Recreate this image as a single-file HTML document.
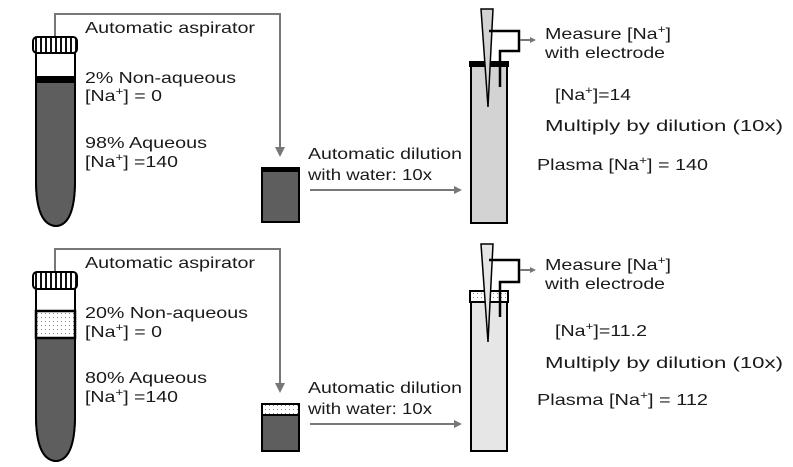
<!DOCTYPE html>
<html><head><meta charset="utf-8"><style>
html,body{margin:0;padding:0;background:#fff}
svg{display:block}
text{font-family:"Liberation Sans",sans-serif;font-size:16px;fill:#1a1a1a}
.s{font-size:11px}
</style></head><body>
<svg width="793" height="467" viewBox="0 0 793 467" xmlns="http://www.w3.org/2000/svg">
<defs>
<pattern id="dots" width="4" height="4" patternUnits="userSpaceOnUse"><rect width="4" height="4" fill="#fff"/><rect x="1" y="1" width="1" height="1" fill="#888"/></pattern>
<pattern id="stripe" width="5" height="5" patternUnits="userSpaceOnUse"><rect width="5" height="5" fill="#fff"/><rect x="0" y="0" width="2" height="5" fill="#111"/></pattern>
</defs>

<!-- ===== TOP PANEL ===== -->
<polyline points="55,36 55,14 280,14 280,148" fill="none" stroke="#777" stroke-width="2"/>
<polygon points="275,147 285,147 280,157" fill="#777"/>
<path d="M36,53 L36,180 Q36,225 56,226 Q75,225 75,180 L75,53 Z" fill="#fff" stroke="#000" stroke-width="2"/>
<path d="M36,82 L36,180 Q36,225 56,226 Q75,225 75,180 L75,82 Z" fill="#5e5e5e" stroke="#000" stroke-width="2"/>
<rect x="35" y="76" width="41" height="6" fill="#000"/>
<rect x="33" y="37" width="44" height="16" rx="4" fill="url(#stripe)" stroke="#000" stroke-width="2"/>
<text x="85" y="33" textLength="170" lengthAdjust="spacingAndGlyphs">Automatic aspirator</text>
<text x="85" y="83" textLength="151" lengthAdjust="spacingAndGlyphs">2% Non-aqueous</text>
<text x="85" y="101" textLength="77" lengthAdjust="spacingAndGlyphs">[Na<tspan class="s" dy="-6">+</tspan><tspan dy="6">] = 0</tspan></text>
<text x="85" y="148" textLength="122" lengthAdjust="spacingAndGlyphs">98% Aqueous</text>
<text x="85" y="167" textLength="93" lengthAdjust="spacingAndGlyphs">[Na<tspan class="s" dy="-6">+</tspan><tspan dy="6">] =140</tspan></text>
<rect x="262" y="168" width="37" height="54" fill="#5e5e5e" stroke="#000" stroke-width="2"/>
<rect x="261" y="167" width="39" height="5" fill="#000"/>
<text x="308" y="159" textLength="154" lengthAdjust="spacingAndGlyphs">Automatic dilution</text>
<text x="308" y="180" textLength="124" lengthAdjust="spacingAndGlyphs">with water: 10x</text>
<line x1="310" y1="190" x2="455" y2="190" stroke="#777" stroke-width="2"/>
<polygon points="454,186 462,190 454,194" fill="#777"/>
<rect x="471" y="64" width="36" height="159" fill="#d3d3d3" stroke="#000" stroke-width="2"/>
<rect x="469" y="61" width="40" height="6" fill="#000"/>
<polygon points="481,9 493,9 488,107" fill="#d3d3d3" stroke="#000" stroke-width="1.5"/>
<polyline points="489,31 519,31 519,51 500,51 500,87" fill="none" stroke="#000" stroke-width="2.5"/>
<line x1="520" y1="40" x2="531" y2="40" stroke="#777" stroke-width="2"/>
<polygon points="530,37 536,40 530,43" fill="#777"/>
<text x="545" y="39" textLength="126" lengthAdjust="spacingAndGlyphs">Measure [Na<tspan class="s" dy="-6">+</tspan><tspan dy="6">]</tspan></text>
<text x="545" y="58" textLength="120" lengthAdjust="spacingAndGlyphs">with electrode</text>
<text x="555" y="100" textLength="76" lengthAdjust="spacingAndGlyphs">[Na<tspan class="s" dy="-6">+</tspan><tspan dy="6">]=14</tspan></text>
<text x="545" y="131" textLength="238" lengthAdjust="spacingAndGlyphs">Multiply by dilution (10x)</text>
<text x="537" y="170" textLength="171" lengthAdjust="spacingAndGlyphs">Plasma [Na<tspan class="s" dy="-6">+</tspan><tspan dy="6">] = 140</tspan></text>

<!-- ===== BOTTOM PANEL ===== -->
<polyline points="55,272 55,249 280,249 280,384" fill="none" stroke="#777" stroke-width="2"/>
<polygon points="275,383 285,383 280,393" fill="#777"/>
<path d="M36,289 L36,415 Q36,460 56,461 Q75,460 75,415 L75,289 Z" fill="#fff" stroke="#000" stroke-width="2"/>
<path d="M36,338 L36,415 Q36,460 56,461 Q75,460 75,415 L75,338 Z" fill="#5e5e5e" stroke="#000" stroke-width="2"/>
<rect x="36" y="311" width="39" height="27" fill="url(#dots)" stroke="#000" stroke-width="2.5"/>
<rect x="33" y="272" width="44" height="17" rx="4" fill="url(#stripe)" stroke="#000" stroke-width="2"/>
<text x="85" y="268" textLength="170" lengthAdjust="spacingAndGlyphs">Automatic aspirator</text>
<text x="85" y="318" textLength="163" lengthAdjust="spacingAndGlyphs">20% Non-aqueous</text>
<text x="85" y="337" textLength="77" lengthAdjust="spacingAndGlyphs">[Na<tspan class="s" dy="-6">+</tspan><tspan dy="6">] = 0</tspan></text>
<text x="85" y="383" textLength="122" lengthAdjust="spacingAndGlyphs">80% Aqueous</text>
<text x="85" y="402" textLength="93" lengthAdjust="spacingAndGlyphs">[Na<tspan class="s" dy="-6">+</tspan><tspan dy="6">] =140</tspan></text>
<rect x="262" y="404" width="37" height="47" fill="#5e5e5e" stroke="#000" stroke-width="2"/>
<rect x="262" y="404" width="37" height="11" fill="url(#dots)" stroke="#000" stroke-width="2"/>
<text x="308" y="393" textLength="154" lengthAdjust="spacingAndGlyphs">Automatic dilution</text>
<text x="308" y="414" textLength="124" lengthAdjust="spacingAndGlyphs">with water: 10x</text>
<line x1="310" y1="424" x2="455" y2="424" stroke="#777" stroke-width="2"/>
<polygon points="454,420 462,424 454,428" fill="#777"/>
<rect x="471" y="302" width="36" height="149" fill="#e6e6e6" stroke="#000" stroke-width="2"/>
<rect x="470" y="291" width="38" height="11" fill="url(#dots)" stroke="#000" stroke-width="2"/>
<polygon points="481,244 493,244 488,342" fill="#e6e6e6" stroke="#000" stroke-width="1.5"/>
<polyline points="489,260 519,260 519,282 500,282 500,317" fill="none" stroke="#000" stroke-width="2.5"/>
<line x1="520" y1="270" x2="531" y2="270" stroke="#777" stroke-width="2"/>
<polygon points="530,267 536,270 530,273" fill="#777"/>
<text x="545" y="270" textLength="126" lengthAdjust="spacingAndGlyphs">Measure [Na<tspan class="s" dy="-6">+</tspan><tspan dy="6">]</tspan></text>
<text x="545" y="289" textLength="120" lengthAdjust="spacingAndGlyphs">with electrode</text>
<text x="555" y="336" textLength="92" lengthAdjust="spacingAndGlyphs">[Na<tspan class="s" dy="-6">+</tspan><tspan dy="6">]=11.2</tspan></text>
<text x="545" y="368" textLength="238" lengthAdjust="spacingAndGlyphs">Multiply by dilution (10x)</text>
<text x="537" y="405" textLength="171" lengthAdjust="spacingAndGlyphs">Plasma [Na<tspan class="s" dy="-6">+</tspan><tspan dy="6">] = 112</tspan></text>
</svg>
</body></html>
